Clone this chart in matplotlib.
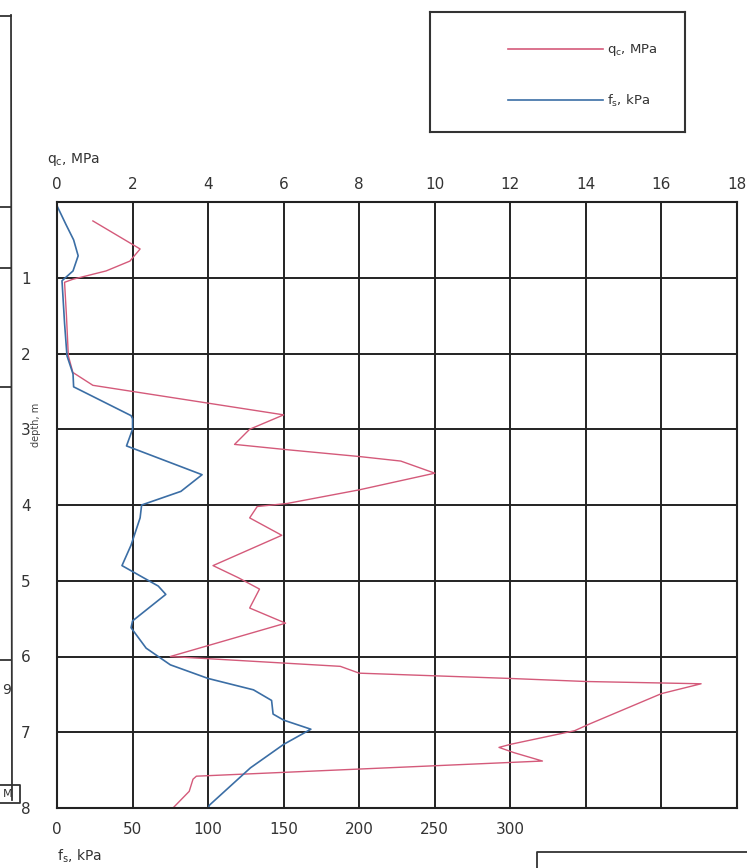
import numpy as np
import matplotlib.pyplot as plt
from matplotlib.lines import Line2D

# cone resistance qc, MPa vs depth, m
qc_depth = [0.25, 0.62, 0.78, 0.91, 1.02, 1.06, 1.5, 2.03, 2.25, 2.42, 2.81, 3.0, 3.2, 3.27,
            3.36, 3.42, 3.58, 3.8, 3.98, 4.02, 4.17, 4.4, 4.8, 4.96, 5.11, 5.36, 5.56, 6.0,
            6.13, 6.22, 6.29, 6.33, 6.36, 6.49, 6.89, 6.98, 7.16, 7.2, 7.27, 7.38, 7.58,
            7.62, 7.78, 8.0]
qc = [0.95, 2.2, 1.93, 1.3, 0.42, 0.2, 0.25, 0.3, 0.42, 0.95, 6.0, 5.1, 4.7, 6.09,
      8.0, 9.1, 10.0, 8.0, 6.09, 5.3, 5.1, 5.95, 4.13, 4.8, 5.36, 5.1, 6.05, 3.0,
      7.5, 8.0, 12.0, 14.0, 17.05, 16.0, 14.1, 13.7, 12.0, 11.7, 12.1, 12.85, 3.69,
      3.6, 3.5, 3.07]

# sleeve friction fs, kPa vs depth, m
fs_depth = [0.05, 0.3, 0.5, 0.71, 0.91, 1.04, 1.1, 1.6, 2.03, 2.27, 2.44, 2.82, 2.86, 3.0,
            3.22, 3.6, 3.82, 4.0, 4.17, 4.53, 4.8, 5.07, 5.18, 5.53, 5.62, 5.89, 6.11,
            6.29, 6.44, 6.58, 6.76, 6.84, 6.96, 7.16, 7.47, 7.96, 8.0]
fs = [0, 6, 11, 14, 10.6, 3.3, 3.5, 5, 6.6, 10.6, 11, 49, 50, 50,
      46, 96, 82, 56, 55, 49, 43, 67, 72, 50, 49, 59, 75,
      100, 130, 142, 143, 150, 168, 150, 128, 101, 100]

qc_ticks = list(range(0, 20, 2))
depth_ticks = [1, 2, 3, 4, 5, 6, 7, 8]
fs_ticks = [0, 50, 100, 150, 200, 250, 300]

red = '#d45a7a'
blue = '#3b6ea5'
W, H = 747, 868

fig = plt.figure(figsize=(W / 100, H / 100), dpi=100)
ax = fig.add_axes([57 / W, 1 - 808 / H, 680 / W, 606 / H])

ax.plot(qc, qc_depth, color=red, lw=1.0)
ax.plot(np.array(fs) / 25, fs_depth, color=blue, lw=1.2)

ax.set_xlim(0, 18)
ax.set_ylim(8, 0)
ax.set_xticks(qc_ticks)
ax.set_yticks(depth_ticks)
ax.xaxis.tick_top()
ax.tick_params(axis='x', length=0, pad=7, labelsize=11, colors='#333333')
ax.tick_params(axis='y', length=0, pad=19, labelsize=11, colors='#333333')
ax.grid(True, color='#222222', lw=1.4)
for s in ax.spines.values():
    s.set_color('#222222')
    s.set_linewidth(1.5)

sec = ax.secondary_xaxis('bottom', functions=(lambda x: x * 25, lambda f: f / 25))
sec.set_xticks(fs_ticks)
sec.tick_params(length=0, pad=10, labelsize=11, colors='#333333')
sec.spines['bottom'].set_visible(False)

fig.text(47 / W, 1 - 160 / H, r'$\mathregular{q_c}$, MPa', fontsize=10, color='#333333',
         va='center')
fig.text(57 / W, 1 - 856 / H, r'$\mathregular{f_s}$, kPa', fontsize=10, color='#333333',
         va='center')
fig.text(36 / W, 1 - 425 / H, 'depth, m', fontsize=7, color='#444444', rotation=90,
         va='center', ha='center')

# legend box
lax = fig.add_axes([430 / W, 1 - 132 / H, 255 / W, 120 / H])
lax.set_xticks([])
lax.set_yticks([])
for s in lax.spines.values():
    s.set_color('#333333')
    s.set_linewidth(1.5)
handles = [Line2D([], [], color=red, lw=1.2, label=r'$\mathregular{q_c}$, MPa'),
           Line2D([], [], color=blue, lw=1.2, label=r'$\mathregular{f_s}$, kPa')]
lax.legend(handles=handles, loc='center right', frameon=False, fontsize=9.5,
           handlelength=7.2, labelspacing=2.6, handletextpad=0.3,
           bbox_to_anchor=(0.94, 0.47), labelcolor='#333333')

# fragments of the neighbouring table on the scan
def fig_line(xs, ys):
    fig.add_artist(Line2D([x / W for x in xs], [1 - y / H for y in ys],
                          color='#333333', lw=1.3))

fig_line([11, 12], [15, 800])
for y in [16, 207, 268, 387, 660]:
    fig_line([0, 11], [y, y])
fig_line([0, 20, 20, 0], [785, 785, 803, 803])
fig.text(2 / W, 1 - 690 / H, '9', fontsize=10, color='#333333', va='center')
fig.text(3 / W, 1 - 794 / H, 'M', fontsize=8, color='#333333', va='center')
fig_line([W, 537, 537], [852, 852, H])

fig.savefig('out.png', dpi=100)
